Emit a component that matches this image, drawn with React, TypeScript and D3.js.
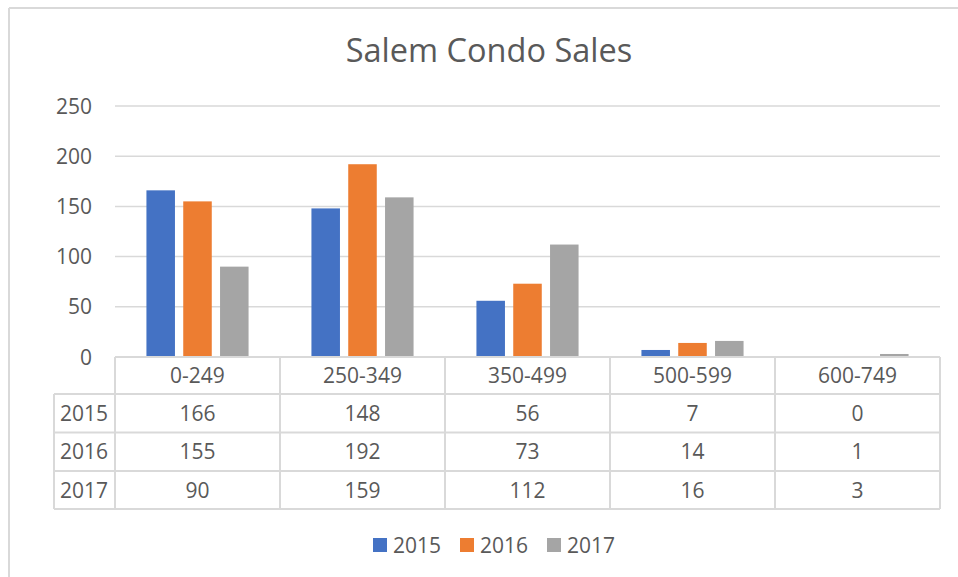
import React from "react";
import * as d3 from "d3";

const categories = ["0-249", "250-349", "350-499", "500-599", "600-749"];
const seriesNames = ["2015", "2016", "2017"];
const values2015 = [166, 148, 56, 7, 0];
const values2016 = [155, 192, 73, 14, 1];
const values2017 = [90, 159, 112, 16, 3];
const yTicks = [0, 50, 100, 150, 200, 250];
const colors = ["#4472C4", "#ED7D31", "#A5A5A5"];

const W = 958;
const H = 577;
const FONT = "'Open Sans', 'Liberation Sans', sans-serif";
const TXT = "#595959";
const GRID = "#d9d9d9";

export default function App() {
  const seriesValues = [values2015, values2016, values2017];
  const x0 = d3.scaleBand<string>().domain(categories).range([115, 940]).padding(0);
  const x1 = d3
    .scaleBand<string>()
    .domain(seriesNames)
    .range([0, x0.bandwidth()])
    .paddingInner(0.225)
    .paddingOuter(0.854);
  const y = d3.scaleLinear().domain([0, 250]).range([357, 106]);

  const rowTops = [357, 394, 432.5, 471, 509];
  const leftX = 54;
  const plotL = 115;
  const plotR = 940;

  return (
    <svg
      width={W}
      height={H}
      style={{ position: "absolute", left: 0, top: 0, background: "#fff" }}
      fontFamily={FONT}
    >
      <rect x={0} y={0} width={W} height={H} fill="#fff" />
      {/* outer chart border */}
      <line x1={9} y1={8} x2={W + 5} y2={8} stroke={GRID} strokeWidth={2} />
      <line x1={9} y1={8} x2={9} y2={H + 5} stroke={GRID} strokeWidth={2} />

      {/* title */}
      <text x={489} y={62} textAnchor="middle" fontSize={32.5} fill={TXT}>
        Salem Condo Sales
      </text>

      {/* gridlines */}
      {yTicks.map((t) => (
        <g key={t}>
          {t > 0 && (
            <line x1={plotL} x2={plotR} y1={y(t)} y2={y(t)} stroke={GRID} strokeWidth={1.5} />
          )}
          <text x={92} y={y(t)} dy="0.36em" textAnchor="end" fontSize={21} fill={TXT}>
            {t}
          </text>
        </g>
      ))}

      {/* bars */}
      {categories.map((c, ci) => (
        <g key={c} transform={`translate(${x0(c)},0)`}>
          {seriesNames.map((s, si) => {
            const v = seriesValues[si][ci];
            if (v <= 0) return null;
            return (
              <rect
                key={s}
                x={x1(s)}
                y={y(v)}
                width={x1.bandwidth()}
                height={y(0) - y(v)}
                fill={colors[si]}
              />
            );
          })}
        </g>
      ))}

      {/* data table */}
      <g stroke={GRID} strokeWidth={2} fill="none">
        {/* horizontal lines */}
        <line x1={plotL} x2={plotR} y1={rowTops[0]} y2={rowTops[0]} />
        {rowTops.slice(1).map((ry, i) => (
          <line key={i} x1={leftX} x2={plotR} y1={ry} y2={ry} />
        ))}
        {/* vertical lines */}
        <line x1={leftX} x2={leftX} y1={rowTops[1]} y2={rowTops[4]} />
        {categories.map((c) => (
          <line key={c} x1={x0(c)!} x2={x0(c)!} y1={rowTops[0]} y2={rowTops[4]} />
        ))}
        <line x1={plotR} x2={plotR} y1={rowTops[0]} y2={rowTops[4]} />
      </g>
      {categories.map((c) => (
        <text
          key={c}
          x={x0(c)! + x0.bandwidth() / 2}
          y={(rowTops[0] + rowTops[1]) / 2}
          dy="0.36em"
          textAnchor="middle"
          fontSize={21}
          fill={TXT}
        >
          {c}
        </text>
      ))}
      {seriesNames.map((s, si) => {
        const cy = (rowTops[si + 1] + rowTops[si + 2]) / 2;
        return (
          <g key={s}>
            <text x={60} y={cy} dy="0.36em" fontSize={21} fill={TXT}>
              {s}
            </text>
            {categories.map((c, ci) => (
              <text
                key={c}
                x={x0(c)! + x0.bandwidth() / 2}
                y={cy}
                dy="0.36em"
                textAnchor="middle"
                fontSize={21}
                fill={TXT}
              >
                {seriesValues[si][ci]}
              </text>
            ))}
          </g>
        );
      })}

      {/* legend */}
      {seriesNames.map((s, si) => {
        const lx = [373, 460, 547][si];
        return (
          <g key={s} transform={`translate(${lx},545)`}>
            <rect x={0} y={-7} width={14} height={14} fill={colors[si]} />
            <text x={20} y={0} dy="0.36em" fontSize={21} fill={TXT}>
              {s}
            </text>
          </g>
        );
      })}
    </svg>
  );
}
